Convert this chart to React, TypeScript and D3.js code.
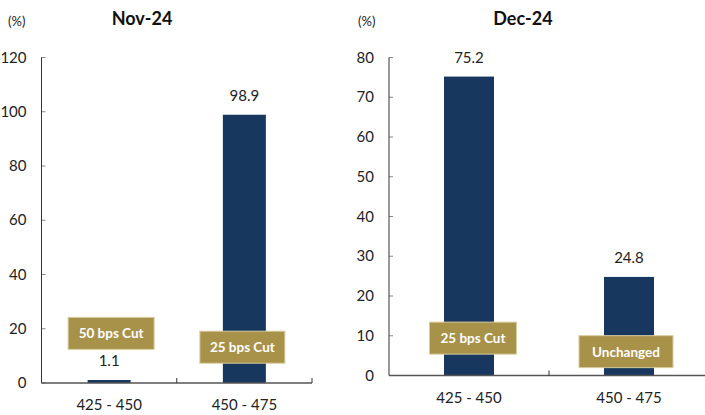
import React from "react";
import * as d3 from "d3";

const categories = ["425 - 450", "450 - 475"];
const novValues = [1.1, 98.9];
const decValues = [75.2, 24.8];
const novTicks = [0, 20, 40, 60, 80, 100, 120];
const decTicks = [0, 10, 20, 30, 40, 50, 60, 70, 80];
const novNotes = ["50 bps Cut", "25 bps Cut"];
const decNotes = ["25 bps Cut", "Unchanged"];
const novNoteLevels = [18.3, 13.2];
const decNoteLevels = [9.4, 6.0];

const FONT = "Lato, 'Open Sans', sans-serif";
const BAR = "#18375F";
const GOLD = "#A8924A";

type PanelProps = {
  title: string;
  values: number[];
  ticks: number[];
  notes: string[];
  noteLevels: number[];
  x0: number;
  x1: number;
  yTop: number;
  yBottom: number;
  max: number;
  barW: number;
  titleX: number;
  pctX: number;
  noteW: number[];
  noteOff: number[];
};

function Panel(p: PanelProps) {
  const x = d3.scaleBand<string>().domain(categories).range([p.x0, p.x1]).padding(0);
  const y = d3.scaleLinear().domain([0, p.max]).range([p.yBottom, p.yTop]);
  return (
    <g fontFamily={FONT}>
      <text x={p.pctX} y={26} fontSize={13} fill="#222">(%)</text>
      <text x={p.titleX} y={25} fontSize={18} fontWeight="bold" textAnchor="middle" fill="#111">{p.title}</text>
      {p.ticks.map((t) => (
        <g key={t}>
          <line x1={p.x0} x2={p.x0 + 4} y1={y(t)} y2={y(t)} stroke="#888" strokeWidth={1} />
          <text x={p.x0 - 15} y={y(t) + 5} fontSize={15} textAnchor="end" fill="#222">{t}</text>
        </g>
      ))}
      {categories.map((c, i) => {
        const cx = (x(c) as number) + x.bandwidth() / 2;
        const v = p.values[i];
        const ny = y(p.noteLevels[i]);
        return (
          <g key={c}>
            <rect x={cx - p.barW / 2} y={y(v)} width={p.barW} height={p.yBottom - y(v)} fill={BAR} />
            <text x={cx} y={y(v) - 14} fontSize={15} textAnchor="middle" fill="#222">{v.toFixed(1)}</text>
            <text x={cx} y={p.yBottom + 27} fontSize={15} textAnchor="middle" fill="#222">{c}</text>
            <rect
              x={cx + p.noteOff[i] - p.noteW[i] / 2}
              y={ny - 16}
              width={p.noteW[i]}
              height={32}
              fill={GOLD}
              stroke="#D8CCA0"
              strokeWidth={1}
            />
            <text x={cx + p.noteOff[i]} y={ny + 5} fontSize={13.5} fontWeight="bold" textAnchor="middle" fill="#fff">{p.notes[i]}</text>
          </g>
        );
      })}
      <line x1={p.x0} x2={p.x0} y1={p.yTop} y2={p.yBottom} stroke="#333" strokeWidth={1} />
      <line x1={p.x0} x2={p.x1} y1={p.yBottom} y2={p.yBottom} stroke="#555" strokeWidth={1.3} />
      {categories.map((c, i) => (
        i > 0 ? <line key={c} x1={x(c) as number} x2={x(c) as number} y1={p.yBottom} y2={p.yBottom - 5} stroke="#333" /> : null
      ))}
      <line x1={p.x1} x2={p.x1} y1={p.yBottom} y2={p.yBottom - 5} stroke="#333" />
    </g>
  );
}

export default function App() {
  return (
    <svg width={705} height={415} style={{ position: "absolute", left: 0, top: 0, background: "#fff" }}>
      <Panel
        title="Nov-24"
        values={novValues}
        ticks={novTicks}
        notes={novNotes}
        noteLevels={novNoteLevels}
        x0={41.5}
        x1={312}
        yTop={57.5}
        yBottom={383}
        max={120}
        barW={43}
        titleX={142}
        pctX={8}
        noteW={[86, 85]}
        noteOff={[2, -2]}
      />
      <Panel
        title="Dec-24"
        values={decValues}
        ticks={decTicks}
        notes={decNotes}
        noteLevels={decNoteLevels}
        x0={389}
        x1={709}
        yTop={57.5}
        yBottom={375.5}
        max={80}
        barW={50}
        titleX={523}
        pctX={358}
        noteW={[87, 94]}
        noteOff={[4, -3]}
      />
    </svg>
  );
}
